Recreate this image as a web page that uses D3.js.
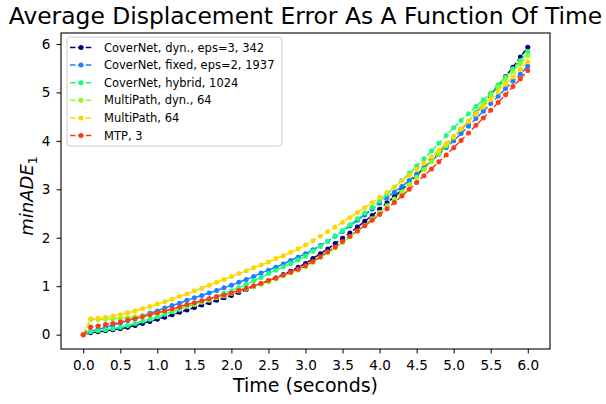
<!DOCTYPE html>
<html>
<head>
<meta charset="utf-8">
<script src="https://cdn.jsdelivr.net/npm/d3@7"></script>
<style>
    html, body { margin: 0; padding: 0; background: #fff; }
    svg { display: block; font-family: 'DejaVu Sans', sans-serif; }
</style>
</head>
<body>
<div id="chart"></div>
<script>
// Time axis (seconds), one point every 0.1 s
const times = [
    0.0, 0.1, 0.2, 0.3, 0.4, 0.5, 0.6, 0.7, 0.8, 0.9,
    1.0, 1.1, 1.2, 1.3, 1.4, 1.5, 1.6, 1.7, 1.8, 1.9,
    2.0, 2.1, 2.2, 2.3, 2.4, 2.5, 2.6, 2.7, 2.8, 2.9,
    3.0, 3.1, 3.2, 3.3, 3.4, 3.5, 3.6, 3.7, 3.8, 3.9,
    4.0, 4.1, 4.2, 4.3, 4.4, 4.5, 4.6, 4.7, 4.8, 4.9,
    5.0, 5.1, 5.2, 5.3, 5.4, 5.5, 5.6, 5.7, 5.8, 5.9, 6.0
];

const covernetDyn = [
    0, 0.04, 0.06, 0.08, 0.10, 0.12, 0.15, 0.19, 0.23, 0.27,
    0.32, 0.36, 0.41, 0.46, 0.51, 0.56, 0.61, 0.66, 0.71, 0.76,
    0.81, 0.87, 0.93, 0.99, 1.05, 1.11, 1.17, 1.24, 1.31, 1.39,
    1.47, 1.57, 1.67, 1.77, 1.88, 1.99, 2.10, 2.22, 2.34, 2.46,
    2.59, 2.72, 2.85, 2.99, 3.14, 3.29, 3.44, 3.59, 3.75, 3.91,
    4.07, 4.23, 4.40, 4.58, 4.76, 4.95, 5.13, 5.33, 5.52, 5.73, 5.93
];

const covernetFixed = [
    0, 0.07, 0.11, 0.15, 0.20, 0.24, 0.29, 0.34, 0.39, 0.44,
    0.49, 0.55, 0.60, 0.65, 0.71, 0.76, 0.81, 0.86, 0.91, 0.97,
    1.02, 1.08, 1.14, 1.20, 1.27, 1.33, 1.39, 1.46, 1.53, 1.60,
    1.67, 1.75, 1.84, 1.93, 2.03, 2.13, 2.24, 2.36, 2.47, 2.59,
    2.71, 2.83, 2.94, 3.06, 3.18, 3.31, 3.44, 3.58, 3.72, 3.86,
    4.00, 4.15, 4.30, 4.46, 4.61, 4.77, 4.92, 5.08, 5.23, 5.38, 5.54
];

const covernetHybrid = [
    0, 0.06, 0.08, 0.10, 0.12, 0.15, 0.19, 0.23, 0.28, 0.32,
    0.37, 0.42, 0.47, 0.52, 0.58, 0.63, 0.68, 0.74, 0.79, 0.85,
    0.90, 0.97, 1.04, 1.11, 1.18, 1.26, 1.33, 1.40, 1.47, 1.54,
    1.62, 1.72, 1.82, 1.93, 2.04, 2.15, 2.27, 2.39, 2.51, 2.63,
    2.76, 2.90, 3.04, 3.18, 3.33, 3.48, 3.63, 3.79, 3.95, 4.11,
    4.27, 4.42, 4.56, 4.71, 4.85, 4.99, 5.16, 5.32, 5.49, 5.66, 5.84
];

const multipathDyn = [
    0, 0.31, 0.31, 0.32, 0.33, 0.34, 0.35, 0.37, 0.39, 0.41,
    0.44, 0.47, 0.51, 0.55, 0.58, 0.62, 0.67, 0.71, 0.76, 0.80,
    0.85, 0.90, 0.94, 0.99, 1.04, 1.09, 1.15, 1.21, 1.27, 1.33,
    1.40, 1.49, 1.59, 1.69, 1.79, 1.90, 2.02, 2.14, 2.26, 2.39,
    2.52, 2.66, 2.80, 2.95, 3.10, 3.25, 3.41, 3.57, 3.73, 3.90,
    4.07, 4.24, 4.41, 4.58, 4.76, 4.93, 5.10, 5.26, 5.43, 5.59, 5.76
];

const multipath = [
    0, 0.33, 0.34, 0.36, 0.38, 0.41, 0.45, 0.49, 0.54, 0.58,
    0.63, 0.68, 0.73, 0.79, 0.84, 0.90, 0.96, 1.02, 1.08, 1.14,
    1.20, 1.26, 1.32, 1.38, 1.44, 1.50, 1.57, 1.63, 1.70, 1.77,
    1.85, 1.94, 2.03, 2.13, 2.22, 2.32, 2.42, 2.52, 2.62, 2.72,
    2.83, 2.94, 3.05, 3.17, 3.29, 3.41, 3.54, 3.67, 3.81, 3.95,
    4.10, 4.25, 4.40, 4.55, 4.70, 4.85, 5.01, 5.17, 5.32, 5.48, 5.64
];

const mtp = [
    0, 0.16, 0.18, 0.21, 0.23, 0.26, 0.30, 0.33, 0.37, 0.41,
    0.45, 0.49, 0.53, 0.57, 0.62, 0.66, 0.70, 0.74, 0.78, 0.82,
    0.86, 0.91, 0.96, 1.01, 1.06, 1.12, 1.17, 1.23, 1.29, 1.35,
    1.42, 1.51, 1.61, 1.71, 1.81, 1.92, 2.03, 2.14, 2.25, 2.36,
    2.48, 2.60, 2.73, 2.86, 3.00, 3.14, 3.28, 3.42, 3.57, 3.71,
    3.86, 4.01, 4.16, 4.32, 4.47, 4.63, 4.79, 4.95, 5.12, 5.28, 5.45
];

const seriesNames = [
    'CoverNet, dyn., eps=3, 342',
    'CoverNet, fixed, eps=2, 1937',
    'CoverNet, hybrid, 1024',
    'MultiPath, dyn., 64',
    'MultiPath, 64',
    'MTP, 3'
];
const seriesValues = [covernetDyn, covernetFixed, covernetHybrid, multipathDyn, multipath, mtp];
const seriesColors = ['#00007f', '#1a80ff', '#1aff77', '#88ff1a', '#ffd700', '#ff3a14'];

const xTicks = [0, 0.5, 1, 1.5, 2, 2.5, 3, 3.5, 4, 4.5, 5, 5.5, 6];
const yTicks = [0, 1, 2, 3, 4, 5, 6];

const W = 606, H = 404;
const margin = { top: 33, right: 56, bottom: 55, left: 61 };
const width = W - margin.left - margin.right;
const height = H - margin.top - margin.bottom;

const svg = d3.select('#chart').append('svg')
    .attr('width', W)
    .attr('height', H);

const g = svg.append('g')
    .attr('transform', `translate(${margin.left},${margin.top})`);

// matplotlib-like 5% margins
const xExt = d3.extent(times);
const xPad = (xExt[1] - xExt[0]) * 0.05;
const xScale = d3.scaleLinear()
    .domain([xExt[0] - xPad, xExt[1] + xPad])
    .range([0, width]);

const allVals = seriesValues.flat();
const yExt = d3.extent(allVals);
const yPad = (yExt[1] - yExt[0]) * 0.05;
const yScale = d3.scaleLinear()
    .domain([yExt[0] - yPad, yExt[1] + yPad])
    .range([height, 0]);

// Lines + markers
const line = d3.line()
    .x((d, i) => xScale(times[i]))
    .y(d => yScale(d));

seriesValues.forEach((vals, k) => {
    const sg = g.append('g');
    sg.append('path')
        .datum(vals)
        .attr('d', line)
        .attr('fill', 'none')
        .attr('stroke', seriesColors[k])
        .attr('stroke-width', 1.5)
        .attr('stroke-dasharray', '5.5,2.4');
    sg.selectAll('circle')
        .data(vals)
        .enter().append('circle')
        .attr('cx', (d, i) => xScale(times[i]))
        .attr('cy', d => yScale(d))
        .attr('r', 2.5)
        .attr('fill', seriesColors[k]);
});

// Axes
const xAxis = d3.axisBottom(xScale)
    .tickValues(xTicks)
    .tickFormat(d3.format('.1f'))
    .tickSize(4.5)
    .tickPadding(6.5);
const yAxis = d3.axisLeft(yScale)
    .tickValues(yTicks)
    .tickFormat(d3.format('d'))
    .tickSize(4.5)
    .tickPadding(6);

const gx = g.append('g').attr('transform', `translate(0,${height})`).call(xAxis);
const gy = g.append('g').call(yAxis);
[gx, gy].forEach(a => {
    a.select('.domain').remove();
    a.selectAll('.tick line').attr('stroke', '#000').attr('stroke-width', 1);
    a.selectAll('.tick text')
        .attr('fill', '#000')
        .style('font-family', "'DejaVu Sans', sans-serif")
        .style('font-size', '13.6px');
});

// Frame
g.append('rect')
    .attr('x', 0).attr('y', 0)
    .attr('width', width).attr('height', height)
    .attr('fill', 'none')
    .attr('stroke', '#000')
    .attr('stroke-width', 1.1);

// Legend
const legend = g.append('g').attr('transform', 'translate(6,4)');
const rowH = 17.6;
legend.append('rect')
    .attr('x', 0).attr('y', 0)
    .attr('width', 215).attr('height', 109)
    .attr('rx', 3)
    .attr('fill', '#fff').attr('fill-opacity', 0.8)
    .attr('stroke', '#ccc').attr('stroke-width', 1);

seriesNames.forEach((name, k) => {
    const cy = 10.5 + k * rowH;
    const row = legend.append('g').attr('transform', `translate(0,${cy})`);
    row.append('line')
        .attr('x1', 3).attr('x2', 25)
        .attr('y1', 0).attr('y2', 0)
        .attr('stroke', seriesColors[k])
        .attr('stroke-width', 1.5)
        .attr('stroke-dasharray', '5.5,2.4');
    row.append('circle')
        .attr('cx', 14).attr('cy', 0).attr('r', 2.5)
        .attr('fill', seriesColors[k]);
    row.append('text')
        .attr('x', 37).attr('y', 0)
        .attr('dy', '0.35em')
        .style('font-size', '11.5px')
        .attr('fill', '#000')
        .text(name);
});

// Title
svg.append('text')
    .attr('x', margin.left + width / 2)
    .attr('y', 24)
    .attr('text-anchor', 'middle')
    .style('font-size', '23.4px')
    .attr('fill', '#000')
    .text('Average Displacement Error As A Function Of Time');

// X label
svg.append('text')
    .attr('x', margin.left + width / 2)
    .attr('y', 392)
    .attr('text-anchor', 'middle')
    .style('font-size', '19px')
    .attr('fill', '#000')
    .text('Time (seconds)');

// Y label (minADE_1)
const yl = svg.append('text')
    .attr('transform', `translate(33,${margin.top + height / 2 + 5}) rotate(-90)`)
    .attr('text-anchor', 'middle')
    .style('font-size', '18px')
    .attr('fill', '#000');
yl.append('tspan').style('font-style', 'italic').text('minADE');
yl.append('tspan').attr('dy', 3.5).style('font-size', '12.5px').text('1');
</script>
</body>
</html>
